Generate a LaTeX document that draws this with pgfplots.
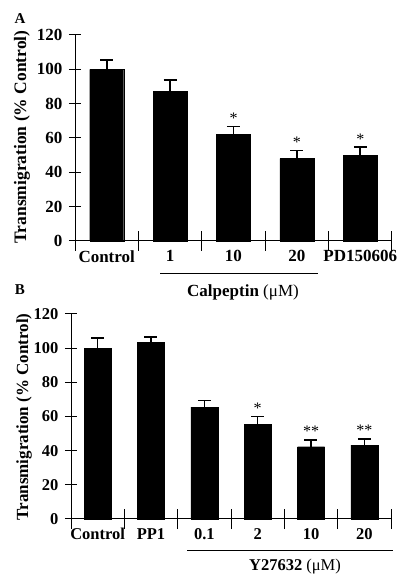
\documentclass[border=0pt]{standalone}
\usepackage{fontspec}
\setmainfont{Liberation Serif}
\usepackage{pgfplots}
\pgfplotsset{compat=1.18}
\begin{document}
\begin{tikzpicture}[x=1pt,y=1pt]
\path[use as bounding box] (0,0) rectangle (401,575);
\tikzset{star/.style={font=\fontsize{16}{16}\selectfont, anchor=base, yshift=3pt}}
\pgfplotsset{
 panel/.style={
  scale only axis, anchor=south west, ymin=0, ymax=120, ytick={0,20,...,120},
  axis x line=bottom, axis y line=left, axis line style={-, line width=1pt},
  tick align=center, major tick length=12pt,
  every tick/.style={black, line width=1pt},
  /pgf/number format/assume math mode=true,
  yticklabel style={font=\fontsize{17}{17}\selectfont\bfseries, xshift=-3pt},
  xticklabel style={font=\fontsize{17}{17}\selectfont\bfseries},
  xtick style={draw=none},
  extra x tick style={major tick length=20pt, xtick style={draw=black}},
  extra x tick labels={},
  clip=false,
 },
 bars/.style={ybar, bar shift=0pt, fill=black, draw=black, bar width=#1,
   error bars/.cd, y dir=plus, y explicit,
   error bar style={line width=1.6pt},
   error mark options={rotate=90, mark size=6.5pt, line width=1.6pt}},
}
% Panel A
\begin{axis}[panel, at={(75pt,334pt)}, width=317pt, height=206pt,
  xmin=0, xmax=5,
  xtick={0.5,1.5,2.5,3.5,4.5},
  xticklabels={Control,1,10,20,PD150606},
  extra x ticks={0,1,2,3,4,5}]
\addplot[bars=34pt] coordinates {
 (0.5,100) +- (0,5.5)
 (1.5,87) +- (0,6.8)
 (2.5,62) +- (0,4.6)
 (3.5,48) +- (0,4.6)
 (4.5,50) +- (0,4.7)
};
\node[star] at (axis cs:2.5,66.6) {*};
\node[star] at (axis cs:3.5,52.6) {*};
\node[star] at (axis cs:4.5,54.7) {*};
\end{axis}
% Panel B
\begin{axis}[panel, at={(71pt,56pt)}, width=320pt, height=205pt,
  xmin=0, xmax=6,
  xtick={0.5,1.5,2.5,3.5,4.5,5.5},
  xticklabels={Control,PP1,0.1,2,10,20},
  yticklabel style={font=\fontsize{16.5}{16.5}\selectfont\bfseries},
  xticklabel style={font=\fontsize{16.5}{16.5}\selectfont\bfseries},
  extra x ticks={0,1,2,3,4,5,6}]
\addplot[bars=27pt] coordinates {
 (0.5,100) +- (0,6)
 (1.5,103.5) +- (0,3)
 (2.5,65.5) +- (0,3.8)
 (3.5,55.3) +- (0,4.8)
 (4.5,42.3) +- (0,4)
 (5.5,43.2) +- (0,3.7)
};
\node[star] at (axis cs:3.5,60.1) {*};
\node[star] at (axis cs:4.5,46.3) {**};
\node[star] at (axis cs:5.5,46.9) {**};
\end{axis}
% annotations
\node[font=\fontsize{15}{15}\selectfont\bfseries] at (20,556) {A};
\node[font=\fontsize{15}{15}\selectfont\bfseries] at (20,285) {B};
\node[rotate=90, font=\fontsize{17.5}{17.5}\selectfont\bfseries] at (22,438) {Transmigration (\% Control)};
\node[rotate=90, font=\fontsize{17}{17}\selectfont\bfseries] at (24,158) {Transmigration (\% Control)};
\draw[line width=1pt] (160,301) -- (318,301);
\node[font=\fontsize{17}{17}\selectfont\bfseries] at (243,283) {Calpeptin {\mdseries(μM)}};
\draw[line width=1pt] (187,24) -- (393,24);
\node[font=\fontsize{16.5}{16.5}\selectfont\bfseries] at (295,8) {Y27632 {\mdseries(μM)}};
\end{tikzpicture}
\end{document}
